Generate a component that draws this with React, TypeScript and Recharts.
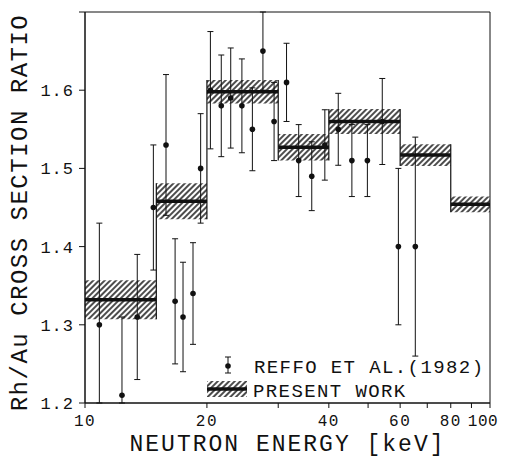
import {
  ComposedChart,
  XAxis,
  YAxis,
  Scatter,
  ErrorBar,
  ReferenceArea,
  ReferenceLine,
  Legend,
} from 'recharts';

// present work: bin edges (keV), ratio and its uncertainty band
const binEdges = [10, 15, 20, 30, 40, 60, 80, 100];
const binRatio = [1.332, 1.458, 1.598, 1.527, 1.56, 1.517, 1.454];
const binError = [0.025, 0.023, 0.015, 0.017, 0.016, 0.014, 0.01];

// Reffo et al. (1982)
const reffoEnergy = [
  10.85, 12.34, 13.46, 14.75, 15.85, 16.69, 17.46, 18.48, 19.3, 20.4, 21.7, 22.9, 24.4,
  25.9, 27.5, 29.3, 31.45, 33.7, 36.3, 39.1, 42.2, 45.6, 49.8, 54.2, 59.4, 65.4,
];
const reffoRatio = [
  1.3, 1.21, 1.31, 1.45, 1.53, 1.33, 1.31, 1.34, 1.5, 1.6, 1.58, 1.59, 1.58,
  1.55, 1.65, 1.56, 1.61, 1.51, 1.49, 1.53, 1.55, 1.51, 1.51, 1.56, 1.4, 1.4,
];
const reffoError = [
  0.13, 0.1, 0.08, 0.08, 0.09, 0.08, 0.07, 0.065, 0.07, 0.075, 0.065, 0.064, 0.06,
  0.053, 0.05, 0.05, 0.05, 0.046, 0.044, 0.045, 0.046, 0.046, 0.046, 0.055, 0.1, 0.14,
];

const xTicks = [10, 20, 30, 40, 50, 60, 70, 80, 90, 100];
const xLabels = [10, 20, 40, 60, 80, 100];
const yTicks = [1.2, 1.3, 1.4, 1.5, 1.6, 1.7];
const yLabels = [1.2, 1.3, 1.4, 1.5, 1.6];

const Y_MIN = 1.2;
const Y_MAX = 1.7;

// error bars stop at the frame, as in the figure
const reffo = reffoEnergy.map((e, i) => ({
  e,
  r: reffoRatio[i],
  err: [
    Math.min(reffoError[i], reffoRatio[i] - Y_MIN),
    Math.min(reffoError[i], Y_MAX - reffoRatio[i]),
  ],
}));

// vertical edges of the histogram span both neighbouring bands
const edgeLines = binEdges.slice(1, -1).map((x, j) => ({
  x,
  lo: Math.min(binRatio[j] - binError[j], binRatio[j + 1] - binError[j + 1]),
  hi: Math.max(binRatio[j] + binError[j], binRatio[j + 1] + binError[j + 1]),
}));

const FONT = '"Liberation Mono", "DejaVu Sans Mono", monospace';
const INK = '#111';

function Dot(props: any) {
  const { cx, cy } = props;
  return <circle cx={cx} cy={cy} r={2.8} fill={INK} />;
}

function XTick(props: any) {
  const { x, y, payload } = props;
  const v = payload.value;
  if (!xLabels.includes(v)) return <g />;
  // last label would run off the page
  const shift = v === 100 ? -7 : 0;
  return (
    <text
      x={x + shift}
      y={y}
      dy="0.71em"
      textAnchor="middle"
      fontFamily={FONT}
      fontSize={16}
      letterSpacing={v === 100 ? 0.6 : 1.5}
      fill={INK}
    >
      {v}
    </text>
  );
}

function LegendBox() {
  return (
    <svg width={290} height={50} style={{ display: 'block', overflow: 'visible' }}>
      <line x1={23} x2={23} y1={4} y2={20} stroke={INK} strokeWidth={1} />
      <line x1={20} x2={26} y1={4} y2={4} stroke={INK} strokeWidth={1} />
      <line x1={20} x2={26} y1={20} y2={20} stroke={INK} strokeWidth={1} />
      <circle cx={23} cy={13} r={2.8} fill={INK} />
      <text x={49} y={20} fontFamily={FONT} fontSize={19} letterSpacing={1.4} fill={INK}>
        REFFO ET AL.(1982)
      </text>
      <rect x={2} y={28} width={40} height={16} fill="url(#hatch)" />
      <line x1={2} x2={42} y1={36} y2={36} stroke={INK} strokeWidth={3.5} />
      <text x={48} y={44} fontFamily={FONT} fontSize={19} letterSpacing={1.4} fill={INK}>
        PRESENT WORK
      </text>
    </svg>
  );
}

export default function App() {
  return (
    <div style={{ width: 493, height: 449, background: '#fff' }}>
      <ComposedChart
        width={493}
        height={449}
        data={reffo}
        margin={{ top: 4, right: 11, bottom: 0, left: 0 }}
      >
        <defs>
          <pattern
            id="hatch"
            patternUnits="userSpaceOnUse"
            width={4}
            height={4}
            patternTransform="rotate(45)"
          >
            <line x1={1} y1={0} x2={1} y2={4} stroke={INK} strokeWidth={1.5} />
          </pattern>
        </defs>
        <XAxis
          dataKey="e"
          type="number"
          scale="log"
          domain={[10, 100]}
          allowDataOverflow
          ticks={xTicks}
          interval={0}
          tickSize={5}
          tickMargin={7}
          height={54}
          stroke={INK}
          tick={<XTick />}
          label={{
            value: 'NEUTRON ENERGY [keV]',
            position: 'insideBottom',
            offset: 6,
            style: { fontFamily: FONT, fontSize: 23, fill: INK, letterSpacing: 2 },
          }}
        />
        <YAxis
          type="number"
          domain={[Y_MIN, Y_MAX]}
          allowDataOverflow
          ticks={yTicks}
          interval={0}
          tickFormatter={(v: number) =>
            yLabels.some((l) => Math.abs(l - v) < 1e-6) ? v.toFixed(1) : ''
          }
          tickSize={6}
          tickMargin={5}
          width={77}
          stroke={INK}
          tick={{ fontFamily: FONT, fontSize: 17, fill: INK, letterSpacing: 1 }}
          label={{
            content: ({ viewBox }: any) => {
              const cx = viewBox.x + 19;
              const cy = viewBox.y + viewBox.height / 2 + 5;
              return (
                <text
                  x={cx}
                  y={cy}
                  transform={`rotate(-90 ${cx} ${cy})`}
                  textAnchor="middle"
                  fontFamily={FONT}
                  fontSize={24}
                  letterSpacing={1.5}
                  fill={INK}
                >
                  Rh/Au CROSS SECTION RATIO
                </text>
              );
            },
          }}
        />
        <ReferenceArea
          x1={10}
          x2={100}
          y1={Y_MIN}
          y2={Y_MAX}
          fill="none"
          fillOpacity={0}
          stroke={INK}
          strokeWidth={1}
        />
        {binRatio.map((r, i) => (
          <ReferenceArea
            key={`band-${i}`}
            x1={binEdges[i]}
            x2={binEdges[i + 1]}
            y1={r - binError[i]}
            y2={r + binError[i]}
            fill="url(#hatch)"
            fillOpacity={1}
            stroke="none"
          />
        ))}
        {edgeLines.map((d) => (
          <ReferenceLine
            key={`edge-${d.x}`}
            segment={[
              { x: d.x, y: d.lo },
              { x: d.x, y: d.hi },
            ]}
            stroke={INK}
            strokeWidth={1.2}
          />
        ))}
        {binRatio.map((r, i) => (
          <ReferenceLine
            key={`mid-${i}`}
            segment={[
              { x: binEdges[i], y: r },
              { x: binEdges[i + 1], y: r },
            ]}
            stroke={INK}
            strokeWidth={3.5}
          />
        ))}
        <Scatter dataKey="r" shape={<Dot />} isAnimationActive={false}>
          <ErrorBar dataKey="err" direction="y" width={3} stroke={INK} strokeWidth={1} />
        </Scatter>
        <Legend
          layout="horizontal"
          verticalAlign="middle"
          align="center"
          wrapperStyle={{ left: 197, top: 345, width: 290 }}
          content={() => <LegendBox />}
        />
      </ComposedChart>
    </div>
  );
}
